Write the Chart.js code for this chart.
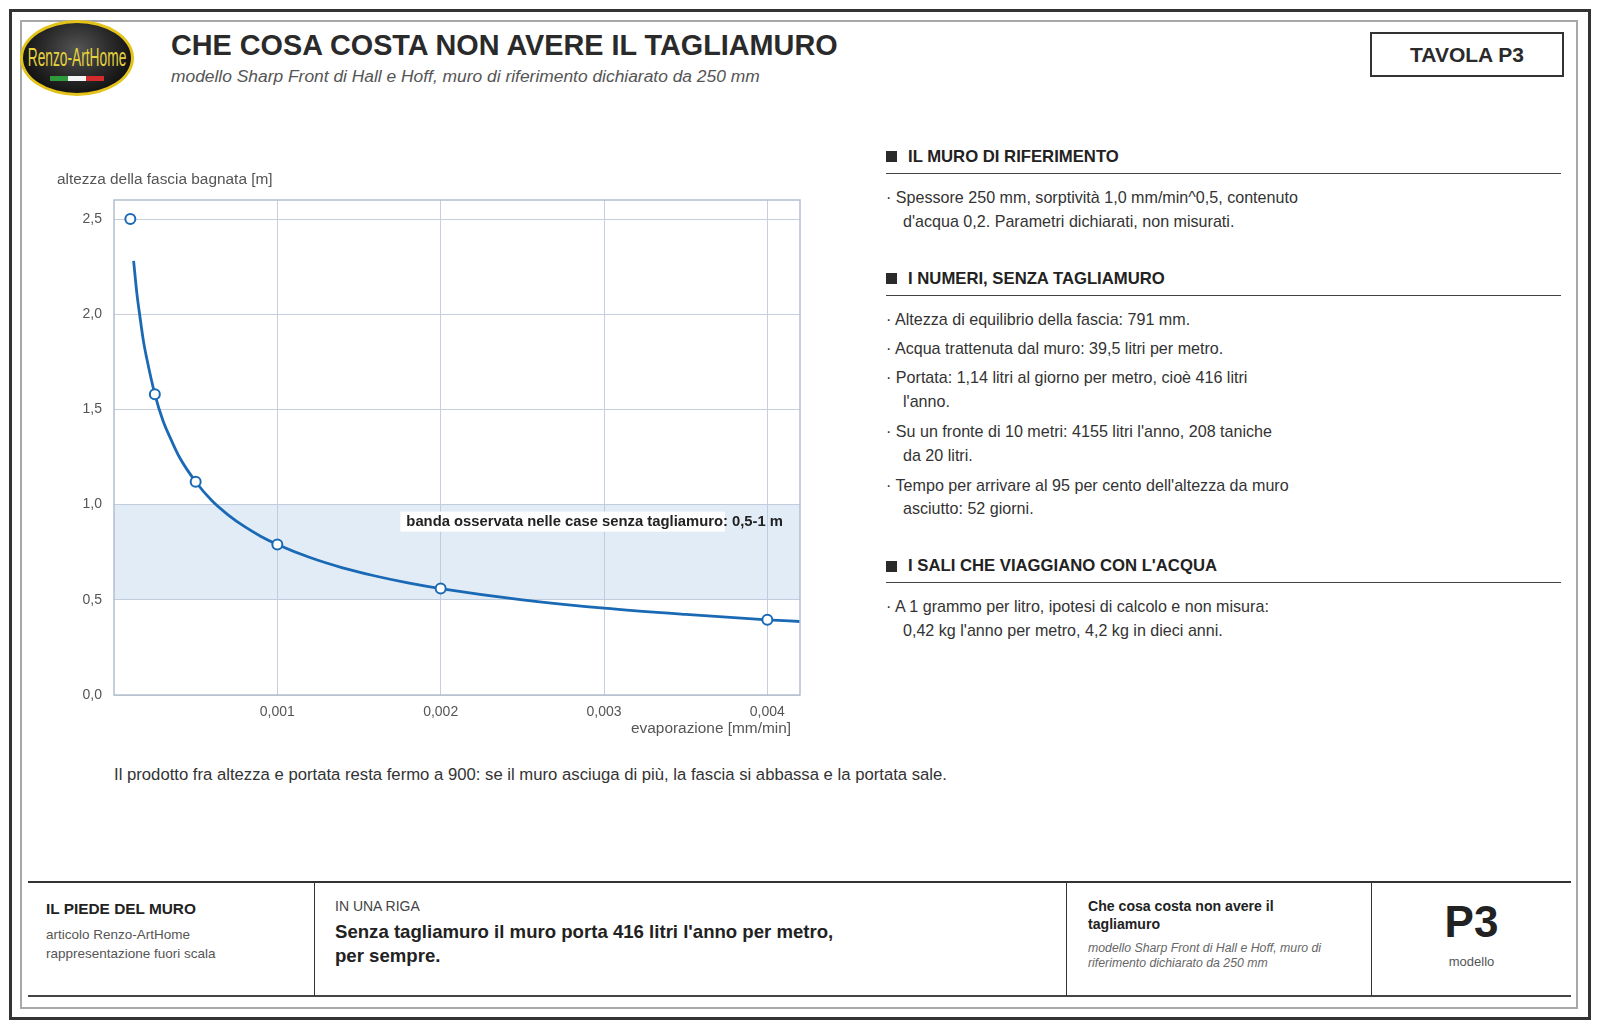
<!DOCTYPE html>
<html lang="it">
<head>
<meta charset="utf-8">
<title>Che cosa costa non avere il tagliamuro</title>
<script src="https://cdn.jsdelivr.net/npm/chart.js@4.4.1/dist/chart.umd.min.js"></script>
<style>
  html, body { margin: 0; padding: 0; background: #fff; }
  body { width: 1600px; height: 1029px; position: relative; overflow: hidden;
         font-family: "Liberation Sans", Arial, Helvetica, sans-serif; color: #333; }
  .abs { position: absolute; white-space: nowrap; }
  .frame-outer { position: absolute; left: 9px; top: 9px; width: 1582px; height: 1011px;
                 box-sizing: border-box; border: 3px solid #333; }
  .frame-inner { position: absolute; left: 20px; top: 20px; width: 1558px; height: 989px;
                 box-sizing: border-box; border: 2px solid #a8a8a8; }
  .logo { position: absolute; left: 20px; top: 20px; width: 114px; height: 76px; box-sizing: border-box;
          border-radius: 50%; border: 3px solid #e3c21a;
          background: radial-gradient(ellipse at 50% 38%, #555 0%, #2a2a2a 45%, #0e0e0e 80%); overflow: hidden; }
  .logo-text { position: absolute; left: -40px; width: 188px; top: 20px; text-align: center; color: #e6d23c;
               font-size: 25px; line-height: 28px; transform: scaleX(0.55); white-space: nowrap; }
  .flag { position: absolute; top: 53px; left: 27px; width: 54px; height: 5px;
          background: linear-gradient(90deg, #2e9a3c 0 33%, #f4f4f4 33% 66%, #d22b2b 66% 100%); }
  .title { left: 171px; top: 28px; font-size: 28.8px; line-height: 34px; font-weight: bold; color: #2a2a2a; }
  .subtitle { left: 171px; top: 66px; font-size: 17.4px; line-height: 20px; font-style: italic; color: #555; }
  .tavola { position: absolute; left: 1370px; top: 32px; width: 194px; height: 45px; box-sizing: border-box;
            border: 2px solid #333; text-align: center; font-weight: bold; font-size: 21px; line-height: 41px; color: #2a2a2a; }
  .sq { position: absolute; width: 11px; height: 11px; background: #2a2a2a; }
  .hd { font-size: 16.7px; line-height: 20px; font-weight: bold; color: #222; }
  .rule { position: absolute; height: 1px; background: #444; left: 886px; width: 675px; }
  .bl { font-size: 16.1px; line-height: 20px; color: #333; }
  .note { left: 114px; top: 765px; font-size: 16.7px; line-height: 20px; color: #333; }
  .hline { position: absolute; left: 28px; width: 1543px; background: #333; }
  .vline { position: absolute; top: 882px; height: 114px; width: 1px; background: #333; }
  #chartWrap { position: absolute; left: 40px; top: 160px; width: 780px; height: 580px; }
</style>
</head>
<body>
<div class="frame-outer"></div>
<div class="frame-inner"></div>

<div class="logo"><div class="logo-text">Renzo-ArtHome</div><div class="flag"></div></div>
<div class="abs title">CHE COSA COSTA NON AVERE IL TAGLIAMURO</div>
<div class="abs subtitle">modello Sharp Front di Hall e Hoff, muro di riferimento dichiarato da 250 mm</div>
<div class="tavola">TAVOLA P3</div>

<div id="chartWrap"><canvas id="chart" width="780" height="580"></canvas></div>

<!-- right panel -->
<div class="sq" style="left:886px; top:151px"></div>
<div class="abs hd" style="left:908px; top:147px">IL MURO DI RIFERIMENTO</div>
<div class="rule" style="top:173px"></div>
<div class="abs bl" style="left:886px; top:187px">· Spessore 250 mm, sorptività 1,0 mm/min^0,5, contenuto</div>
<div class="abs bl" style="left:903px; top:211px">d'acqua 0,2. Parametri dichiarati, non misurati.</div>

<div class="sq" style="left:886px; top:273px"></div>
<div class="abs hd" style="left:908px; top:269px">I NUMERI, SENZA TAGLIAMURO</div>
<div class="rule" style="top:295px"></div>
<div class="abs bl" style="left:886px; top:309px">· Altezza di equilibrio della fascia: 791 mm.</div>
<div class="abs bl" style="left:886px; top:338px">· Acqua trattenuta dal muro: 39,5 litri per metro.</div>
<div class="abs bl" style="left:886px; top:367px">· Portata: 1,14 litri al giorno per metro, cioè 416 litri</div>
<div class="abs bl" style="left:903px; top:391px">l'anno.</div>
<div class="abs bl" style="left:886px; top:421px">· Su un fronte di 10 metri: 4155 litri l'anno, 208 taniche</div>
<div class="abs bl" style="left:903px; top:445px">da 20 litri.</div>
<div class="abs bl" style="left:886px; top:475px">· Tempo per arrivare al 95 per cento dell'altezza da muro</div>
<div class="abs bl" style="left:903px; top:498px">asciutto: 52 giorni.</div>

<div class="sq" style="left:886px; top:561px"></div>
<div class="abs hd" style="left:908px; top:556px">I SALI CHE VIAGGIANO CON L'ACQUA</div>
<div class="rule" style="top:582px"></div>
<div class="abs bl" style="left:886px; top:596px">· A 1 grammo per litro, ipotesi di calcolo e non misura:</div>
<div class="abs bl" style="left:903px; top:620px">0,42 kg l'anno per metro, 4,2 kg in dieci anni.</div>

<div class="abs note">Il prodotto fra altezza e portata resta fermo a 900: se il muro asciuga di più, la fascia si abbassa e la portata sale.</div>

<!-- footer -->
<div class="hline" style="top:881px; height:2px"></div>
<div class="hline" style="top:995px; height:2px; background:#444"></div>
<div class="vline" style="left:314px"></div>
<div class="vline" style="left:1066px"></div>
<div class="vline" style="left:1371px"></div>

<div class="abs" style="left:46px; top:899px; font-size:15.4px; line-height:20px; font-weight:bold; color:#222">IL PIEDE DEL MURO</div>
<div class="abs" style="left:46px; top:926px; font-size:13.5px; line-height:18px; color:#555">articolo Renzo-ArtHome</div>
<div class="abs" style="left:46px; top:945px; font-size:13.5px; line-height:18px; color:#555">rappresentazione fuori scala</div>

<div class="abs" style="left:335px; top:897px; font-size:14px; line-height:18px; color:#444">IN UNA RIGA</div>
<div class="abs" style="left:335px; top:921px; font-size:18.6px; line-height:22px; font-weight:bold; color:#222">Senza tagliamuro il muro porta 416 litri l'anno per metro,</div>
<div class="abs" style="left:335px; top:945px; font-size:18.6px; line-height:22px; font-weight:bold; color:#222">per sempre.</div>

<div class="abs" style="left:1088px; top:897px; font-size:14.1px; line-height:18px; font-weight:bold; color:#222">Che cosa costa non avere il</div>
<div class="abs" style="left:1088px; top:915px; font-size:14.1px; line-height:18px; font-weight:bold; color:#222">tagliamuro</div>
<div class="abs" style="left:1088px; top:940px; font-size:12.3px; line-height:16px; font-style:italic; color:#666">modello Sharp Front di Hall e Hoff, muro di</div>
<div class="abs" style="left:1088px; top:955px; font-size:12.3px; line-height:16px; font-style:italic; color:#666">riferimento dichiarato da 250 mm</div>

<div class="abs" style="left:1372px; width:199px; text-align:center; top:896px; font-size:44px; line-height:52px; font-weight:bold; color:#222">P3</div>
<div class="abs" style="left:1372px; width:199px; text-align:center; top:953px; font-size:13px; line-height:18px; color:#555">modello</div>

<script>
// ---- data ----
const curveX = [0.00012, 0.00014, 0.00016, 0.00018, 0.0002, 0.00025, 0.0003, 0.00035, 0.0004, 0.0005,
                0.0006, 0.0007, 0.0008, 0.0009, 0.001, 0.0012, 0.0014, 0.0016, 0.0018, 0.002,
                0.0025, 0.003, 0.0035, 0.004, 0.0042];
const curveY = [2.28, 2.11, 1.98, 1.86, 1.77, 1.58, 1.44, 1.34, 1.25, 1.12,
                1.02, 0.945, 0.884, 0.833, 0.791, 0.722, 0.668, 0.625, 0.589, 0.559,
                0.500, 0.456, 0.423, 0.395, 0.386];
const markerX = [0.0001, 0.00025, 0.0005, 0.001, 0.002, 0.004];
const markerY = [2.5, 1.58, 1.12, 0.79, 0.56, 0.395];
const bandX = [0, 0.0042];
const bandLow = [0.5, 0.5];
const bandHigh = [1.0, 1.0];
const xTicks = [0.001, 0.002, 0.003, 0.004];
const yTicks = [0, 0.5, 1.0, 1.5, 2.0, 2.5];
const xRange = [0, 0.0042];
const yRange = [0, 2.6];
const bandLabel = "banda osservata nelle case senza tagliamuro: 0,5-1 m";
const yTitle = "altezza della fascia bagnata [m]";
const xTitle = "evaporazione [mm/min]";

const BLUE = "#1a69b5";
const GRID = "#c6cfdb";
const FRAME = "#b3bfce";
const TICK = "#555";
const FONT = '"Liberation Sans", Arial, sans-serif';

const extras = {
  id: "extras",
  afterDatasetsDraw(chart) {
    const { ctx, chartArea: a, scales } = chart;
    ctx.save();
    // frame
    ctx.strokeStyle = FRAME; ctx.lineWidth = 1.5;
    ctx.strokeRect(a.left, a.top, a.right - a.left, a.bottom - a.top);
    // band label
    ctx.font = "bold 14.8px " + FONT;
    const w = ctx.measureText(bandLabel).width;
    const wBox = ctx.measureText(bandLabel.split(":")[0]).width;
    const tx = a.right - 17 - w;
    const ty = scales.y.getPixelForValue(bandHigh[0]) + 17;
    ctx.fillStyle = "#fff";
    ctx.fillRect(tx - 6, ty - 10, wBox + 8, 20);
    ctx.fillStyle = "#222"; ctx.textBaseline = "middle"; ctx.textAlign = "left";
    ctx.fillText(bandLabel, tx, ty);
    ctx.restore();
  },
  afterDraw(chart) {
    const { ctx, chartArea: a } = chart;
    ctx.save();
    ctx.fillStyle = TICK; ctx.font = "15.4px " + FONT; ctx.textBaseline = "middle";
    ctx.textAlign = "left";
    ctx.fillText(yTitle, 17, 20);
    ctx.textAlign = "right";
    ctx.fillText(xTitle, a.right - 9, a.bottom + 34);
    ctx.restore();
  }
};

const chart = new Chart(document.getElementById("chart"), {
  type: "scatter",
  data: {
    datasets: [
      { label: "banda alta", data: bandX.map((x, i) => ({ x, y: bandHigh[i] })), showLine: true,
        borderWidth: 0, pointRadius: 0, fill: "+1", backgroundColor: "rgba(175,203,230,0.36)", order: 3 },
      { label: "banda bassa", data: bandX.map((x, i) => ({ x, y: bandLow[i] })), showLine: true,
        borderWidth: 0, pointRadius: 0, fill: false, order: 3 },
      { label: "curva", data: curveX.map((x, i) => ({ x, y: curveY[i] })), showLine: true,
        borderColor: BLUE, borderWidth: 2.8, pointRadius: 0, fill: false,
        cubicInterpolationMode: "monotone", order: 2 },
      { label: "punti", data: markerX.map((x, i) => ({ x, y: markerY[i] })), showLine: false,
        pointRadius: 5, pointBorderWidth: 2, pointBackgroundColor: "#fff", pointBorderColor: BLUE, order: 1 }
    ]
  },
  options: {
    responsive: false,
    animation: false,
    layout: { padding: { top: 40, right: 20, left: 0, bottom: 0 } },
    plugins: { legend: { display: false }, tooltip: { enabled: false }, title: { display: false } },
    scales: {
      x: {
        type: "linear", min: xRange[0], max: xRange[1],
        afterBuildTicks: s => { s.ticks = xTicks.map(v => ({ value: v })); },
        afterFit: s => { s.height = 45; },
        grid: { color: GRID, lineWidth: 1, drawTicks: false },
        border: { display: false },
        ticks: { color: TICK, font: { size: 14, family: FONT }, padding: 9, maxRotation: 0,
                 callback: v => v.toFixed(3).replace(".", ",") }
      },
      y: {
        type: "linear", min: yRange[0], max: yRange[1],
        afterBuildTicks: s => { s.ticks = yTicks.map(v => ({ value: v })); },
        afterFit: s => { s.width = 74; },
        grid: { color: GRID, lineWidth: 1, drawTicks: false },
        border: { display: false },
        ticks: { color: TICK, font: { size: 14, family: FONT }, padding: 12,
                 callback: v => v.toFixed(1).replace(".", ",") }
      }
    }
  },
  plugins: [extras]
});
</script>
</body>
</html>
